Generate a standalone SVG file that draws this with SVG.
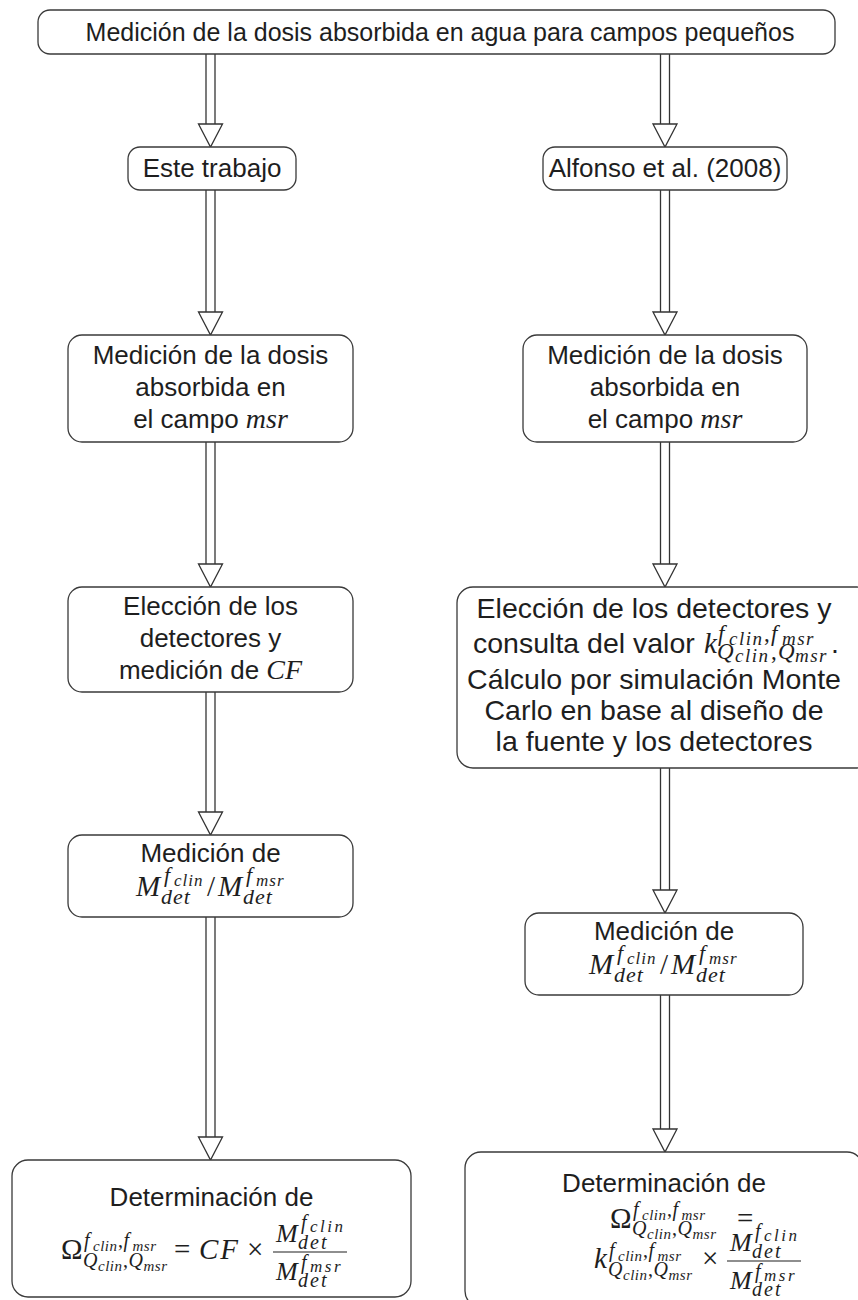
<svg xmlns="http://www.w3.org/2000/svg" width="858" height="1300" viewBox="0 0 858 1300">
<style>
.box{fill:#fff;stroke:#3a3a3a;stroke-width:1.3}
.t{font-family:"Liberation Sans",Arial,sans-serif;fill:#1e1e1e;text-anchor:middle;font-size:26px}
.ts{font-family:"Liberation Sans",Arial,sans-serif;fill:#1e1e1e;font-size:28.5px}
.mi{font-family:"Liberation Serif","Times New Roman",serif;font-style:italic;fill:#1e1e1e}
.mu{font-family:"Liberation Serif","Times New Roman",serif;fill:#1e1e1e}
.s0{font-size:29px}
.g1{font-size:20px;letter-spacing:0.5px}
.g2{font-size:15px;letter-spacing:0.5px}
.r1{font-size:22px;letter-spacing:1px}
.r2{font-size:17px;letter-spacing:1px}
.f0{font-size:26px}
.f1{font-size:20px;letter-spacing:2px}
.f2{font-size:17px;letter-spacing:2.5px}
.e1{font-size:23px;letter-spacing:1.5px}
.e2{font-size:19px;letter-spacing:1.5px}
.shaft{stroke:#333;stroke-width:1.3;fill:none}
.head{fill:#fff;stroke:#333;stroke-width:1.3;stroke-linejoin:miter}
.bar{stroke:#1e1e1e;stroke-width:1.1}
</style>

<g id="connectors">
  <line class="shaft" x1="206" y1="54" x2="206" y2="124"/><line class="shaft" x1="215" y1="54" x2="215" y2="124"/>
  <polygon class="head" points="198.5,124 222.5,124 210.5,147"/>
  <line class="shaft" x1="206" y1="190" x2="206" y2="312"/><line class="shaft" x1="215" y1="190" x2="215" y2="312"/>
  <polygon class="head" points="198.5,312 222.5,312 210.5,335"/>
  <line class="shaft" x1="206" y1="442" x2="206" y2="564"/><line class="shaft" x1="215" y1="442" x2="215" y2="564"/>
  <polygon class="head" points="198.5,564 222.5,564 210.5,587"/>
  <line class="shaft" x1="206" y1="692" x2="206" y2="812"/><line class="shaft" x1="215" y1="692" x2="215" y2="812"/>
  <polygon class="head" points="198.5,812 222.5,812 210.5,835"/>
  <line class="shaft" x1="206" y1="917" x2="206" y2="1137"/><line class="shaft" x1="215" y1="917" x2="215" y2="1137"/>
  <polygon class="head" points="198.5,1137 222.5,1137 210.5,1160"/>
  <line class="shaft" x1="660.5" y1="54" x2="660.5" y2="124"/><line class="shaft" x1="669.5" y1="54" x2="669.5" y2="124"/>
  <polygon class="head" points="653,124 677,124 665,147"/>
  <line class="shaft" x1="660.5" y1="190" x2="660.5" y2="312"/><line class="shaft" x1="669.5" y1="190" x2="669.5" y2="312"/>
  <polygon class="head" points="653,312 677,312 665,335"/>
  <line class="shaft" x1="660.5" y1="442" x2="660.5" y2="564"/><line class="shaft" x1="669.5" y1="442" x2="669.5" y2="564"/>
  <polygon class="head" points="653,564 677,564 665,587"/>
  <line class="shaft" x1="660.5" y1="768" x2="660.5" y2="890"/><line class="shaft" x1="669.5" y1="768" x2="669.5" y2="890"/>
  <polygon class="head" points="653,890 677,890 665,913"/>
  <line class="shaft" x1="660.5" y1="995" x2="660.5" y2="1129"/><line class="shaft" x1="669.5" y1="995" x2="669.5" y2="1129"/>
  <polygon class="head" points="653,1129 677,1129 665,1152"/>
</g>

<g id="top">
  <rect class="box" x="38" y="10" width="797" height="44" rx="12"/>
  <text class="t" x="440" y="41" style="font-size:25px">Medición de la dosis absorbida en agua para campos pequeños</text>
</g>

<g id="este">
  <rect class="box" x="128" y="147" width="168" height="43" rx="12"/>
  <text class="t" x="212" y="177">Este trabajo</text>
</g>

<g id="alfonso">
  <rect class="box" x="543" y="147" width="244" height="43" rx="12"/>
  <text class="t" x="665" y="177">Alfonso et al. (2008)</text>
</g>

<g id="medL">
  <rect class="box" x="68" y="335" width="285" height="107" rx="14"/>
  <text class="t" x="210.5" y="364">Medición de la dosis</text>
  <text class="t" x="210.5" y="396">absorbida en</text>
  <text class="t" x="210.5" y="428">el campo <tspan class="mi" style="font-size:28px">msr</tspan></text>
</g>

<g id="medR">
  <rect class="box" x="523" y="335" width="284" height="107" rx="14"/>
  <text class="t" x="665" y="364">Medición de la dosis</text>
  <text class="t" x="665" y="396">absorbida en</text>
  <text class="t" x="665" y="428">el campo <tspan class="mi" style="font-size:28px">msr</tspan></text>
</g>

<g id="elecL">
  <rect class="box" x="68" y="587" width="285" height="105" rx="14"/>
  <text class="t" x="210.5" y="615">Elección de los</text>
  <text class="t" x="210.5" y="647">detectores y</text>
  <text class="t" x="210.5" y="679">medición de <tspan class="mi" style="font-size:28px">CF</tspan></text>
</g>

<g id="elecR">
  <rect class="box" x="457" y="587" width="416" height="181" rx="16"/>
  <text class="ts" x="654" y="618" text-anchor="middle">Elección de los detectores y</text>
  <text class="ts" x="473" y="653">consulta del valor</text>
  <text class="mi s0" x="704" y="653">k</text>
  <text class="mi e1" x="718" y="641">f</text>
  <text class="mi e2" x="729" y="645">clin</text>
  <text class="mu e1" x="764" y="641">,</text>
  <text class="mi e1" x="771" y="641">f</text>
  <text class="mi e2" x="782" y="645">msr</text>
  <text class="mi e1" x="717" y="659">Q</text>
  <text class="mi e2" x="735" y="662">clin</text>
  <text class="mu e1" x="771" y="659">,</text>
  <text class="mi e1" x="778" y="659">Q</text>
  <text class="mi e2" x="795" y="662">msr</text>
  <text class="ts" x="831" y="653">.</text>
  <text class="ts" x="654" y="689" text-anchor="middle">Cálculo por simulación Monte</text>
  <text class="ts" x="654" y="720" text-anchor="middle">Carlo en base al diseño de</text>
  <text class="ts" x="654" y="751" text-anchor="middle">la fuente y los detectores</text>
</g>

<g id="ratioL">
  <rect class="box" x="68" y="835" width="285" height="82" rx="14"/>
  <text class="t" x="210.5" y="862">Medición de</text>
  <text class="mi s0" x="136" y="896">M</text>
  <text class="mi r1" x="164" y="882">f</text>
  <text class="mi r2" x="174" y="886">clin</text>
  <text class="mi r1" x="161" y="904">det</text>
  <text class="mu s0" x="207" y="896">/</text>
  <text class="mi s0" x="218" y="896">M</text>
  <text class="mi r1" x="246" y="882">f</text>
  <text class="mi r2" x="256" y="886">msr</text>
  <text class="mi r1" x="243" y="904">det</text>
</g>

<g id="ratioR">
  <rect class="box" x="525" y="913" width="278" height="82" rx="14"/>
  <text class="t" x="664" y="940">Medición de</text>
  <text class="mi s0" x="589" y="974">M</text>
  <text class="mi r1" x="617" y="960">f</text>
  <text class="mi r2" x="627" y="964">clin</text>
  <text class="mi r1" x="614" y="982">det</text>
  <text class="mu s0" x="660" y="974">/</text>
  <text class="mi s0" x="671" y="974">M</text>
  <text class="mi r1" x="699" y="960">f</text>
  <text class="mi r2" x="709" y="964">msr</text>
  <text class="mi r1" x="696" y="982">det</text>
</g>

<g id="detL">
  <rect class="box" x="12" y="1160" width="399" height="137" rx="16"/>
  <text class="t" x="211.5" y="1206">Determinación de</text>
  <text class="mu s0" x="61" y="1259">Ω</text>
  <text class="mi g1" x="84" y="1247">f</text>
  <text class="mi g2" x="93" y="1251">clin</text>
  <text class="mu g1" x="118" y="1247">,</text>
  <text class="mi g1" x="123.5" y="1247">f</text>
  <text class="mi g2" x="132.5" y="1251">msr</text>
  <text class="mi g1" x="83" y="1267">Q</text>
  <text class="mi g2" x="98" y="1271">clin</text>
  <text class="mu g1" x="123" y="1267">,</text>
  <text class="mi g1" x="128.5" y="1267">Q</text>
  <text class="mi g2" x="143.5" y="1271">msr</text>
  <text class="mu s0" x="174" y="1259">=</text>
  <text class="mi s0" x="199" y="1259" style="letter-spacing:2px">CF</text>
  <text class="mu s0" x="247" y="1259">×</text>
  <text class="mi f0" x="276" y="1242">M</text>
  <text class="mi f1" x="301" y="1229">f</text>
  <text class="mi f2" x="310" y="1232">clin</text>
  <text class="mi f1" x="298" y="1249">det</text>
  <line class="bar" x1="273" y1="1252" x2="347" y2="1252"/>
  <text class="mi f0" x="276" y="1280">M</text>
  <text class="mi f1" x="301" y="1269">f</text>
  <text class="mi f2" x="310" y="1272">msr</text>
  <text class="mi f1" x="298" y="1287">det</text>
</g>

<g id="detR">
  <rect class="box" x="465" y="1152" width="398" height="155" rx="16"/>
  <text class="t" x="664" y="1192">Determinación de</text>
  <text class="mu s0" x="610" y="1228">Ω</text>
  <text class="mi g1" x="633" y="1216">f</text>
  <text class="mi g2" x="642" y="1220">clin</text>
  <text class="mu g1" x="667" y="1216">,</text>
  <text class="mi g1" x="672.5" y="1216">f</text>
  <text class="mi g2" x="681.5" y="1220">msr</text>
  <text class="mi g1" x="632" y="1235">Q</text>
  <text class="mi g2" x="647" y="1239">clin</text>
  <text class="mu g1" x="672" y="1235">,</text>
  <text class="mi g1" x="677.5" y="1235">Q</text>
  <text class="mi g2" x="692.5" y="1239">msr</text>
  <text class="mu s0" x="737" y="1228">=</text>
  <text class="mi s0" x="594" y="1268">k</text>
  <text class="mi g1" x="609" y="1257">f</text>
  <text class="mi g2" x="618" y="1261">clin</text>
  <text class="mu g1" x="643" y="1257">,</text>
  <text class="mi g1" x="648.5" y="1257">f</text>
  <text class="mi g2" x="657.5" y="1261">msr</text>
  <text class="mi g1" x="608" y="1276">Q</text>
  <text class="mi g2" x="623" y="1280">clin</text>
  <text class="mu g1" x="648" y="1276">,</text>
  <text class="mi g1" x="653.5" y="1276">Q</text>
  <text class="mi g2" x="668.5" y="1280">msr</text>
  <text class="mu s0" x="702" y="1268">×</text>
  <text class="mi f0" x="730" y="1251">M</text>
  <text class="mi f1" x="755" y="1238">f</text>
  <text class="mi f2" x="764" y="1241">clin</text>
  <text class="mi f1" x="752" y="1258">det</text>
  <line class="bar" x1="727" y1="1261" x2="801" y2="1261"/>
  <text class="mi f0" x="730" y="1289">M</text>
  <text class="mi f1" x="755" y="1278">f</text>
  <text class="mi f2" x="764" y="1281">msr</text>
  <text class="mi f1" x="752" y="1296">det</text>
</g>
</svg>
